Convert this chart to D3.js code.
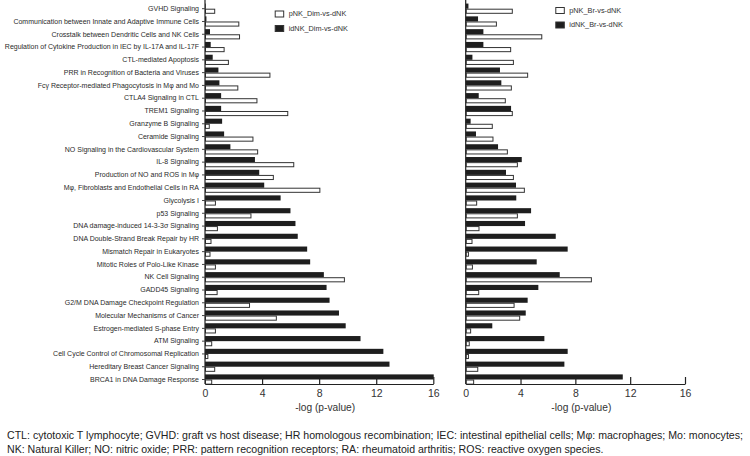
<!DOCTYPE html>
<html><head><meta charset="utf-8">
<script src="https://cdn.jsdelivr.net/npm/d3@7"></script>
<style>
body{margin:0;background:#fff;}
svg{font-family:"Liberation Sans",Arial,sans-serif;}
</style></head>
<body><svg id="c" width="750" height="456"></svg>
<script>
const categories = [
"GVHD Signaling",
"Communication between Innate and Adaptive Immune Cells",
"Crosstalk between Dendritic Cells and NK Cells",
"Regulation of Cytokine Production in IEC by IL-17A and IL-17F",
"CTL-mediated Apoptosis",
"PRR in Recognition of Bacteria and Viruses",
"Fcγ Receptor-mediated Phagocytosis in Mφ and Mo",
"CTLA4 Signaling in CTL",
"TREM1 Signaling",
"Granzyme B Signaling",
"Ceramide Signaling",
"NO Signaling in the Cardiovascular System",
"IL-8 Signaling",
"Production of NO and ROS in Mφ",
"Mφ, Fibroblasts and Endothelial Cells in RA",
"Glycolysis I",
"p53 Signaling",
"DNA damage-induced 14-3-3σ Signaling",
"DNA Double-Strand Break Repair by HR",
"Mismatch Repair in Eukaryotes",
"Mitotic Roles of Polo-Like Kinase",
"NK Cell Signaling",
"GADD45 Signaling",
"G2/M DNA Damage Checkpoint Regulation",
"Molecular Mechanisms of Cancer",
"Estrogen-mediated S-phase Entry",
"ATM Signaling",
"Cell Cycle Control of Chromosomal Replication",
"Hereditary Breast Cancer Signaling",
"BRCA1 in DNA Damage Response"
];
// Left panel
const pNK_Dim = [0.68,2.37,2.42,1.34,1.64,4.55,2.3,3.64,5.8,0.3,3.36,3.69,6.22,4.79,8.05,0.73,3.22,0.87,0.42,0.35,0.73,9.77,0.85,3.12,5.0,0.73,0.47,0.2,0.68,0.47];
const idNK_Dim = [0.05,0.1,0.35,0.4,0.54,0.94,1.01,1.13,1.13,1.2,1.34,1.78,3.5,3.8,4.15,5.3,5.99,6.34,6.5,7.16,7.37,8.33,8.52,8.73,9.39,9.86,10.9,12.5,12.93,16.03];
// Right panel
const pNK_Br = [3.4,2.24,5.55,3.28,3.48,4.52,3.33,2.89,3.4,1.94,1.99,3.04,3.77,3.48,4.28,0.8,3.77,0.97,0.46,0.2,0.49,9.17,0.95,3.53,3.94,0.36,0.26,0.2,0.88,0.58];
const idNK_Br = [0.2,0.9,1.29,1.29,0.49,2.5,2.6,0.95,3.31,0.36,0.75,2.36,4.09,2.94,3.67,3.69,4.77,4.33,6.57,7.44,5.18,6.86,5.3,4.52,4.38,1.94,5.74,7.44,7.2,11.46];
const xTicks = [0,4,8,12,16];
const legendLeft = ["pNK_Dim-vs-dNK","idNK_Dim-vs-dNK"];
const legendRight = ["pNK_Br-vs-dNK","idNK_Br-vs-dNK"];
const axisTitle = "-log (p-value)";
const footnote = [
"CTL: cytotoxic T lymphocyte; GVHD: graft vs host disease; HR homologous recombination; IEC: intestinal epithelial cells; Mφ: macrophages; Mo: monocytes;",
"NK: Natural Killer; NO: nitric oxide; PRR: pattern recognition receptors; RA: rheumatoid arthritis; ROS: reactive oxygen species."
];

const svg = d3.select("#c");
const y = d3.scaleBand().domain(categories).range([2.3, 385.9]).paddingInner(0.2).paddingOuter(0.1);
const sub = d3.scaleBand().domain(["id","p"]).range([0, y.bandwidth()]);
const axisY = 384;

function panel(x0, x1, pVals, idVals, legend, legY, legX, showLabels){
  const x = d3.scaleLinear().domain([0,16]).range([x0, x1]);
  const g = svg.append("g");
  g.selectAll("rect.id").data(categories).join("rect")
    .attr("x", x(0)).attr("y", d=>y(d)+sub("id"))
    .attr("width", (d,i)=>x(idVals[i])-x(0)).attr("height", sub.bandwidth())
    .attr("fill","#1e1e1e");
  g.selectAll("rect.p").data(categories).join("rect")
    .attr("x", x(0)+0.5).attr("y", (d)=>y(d)+sub("p")+0.5)
    .attr("width", (d,i)=>Math.max(0,x(pVals[i])-x(0)-0.5)).attr("height", sub.bandwidth()-1)
    .attr("fill","#fff").attr("stroke","#333").attr("stroke-width",1);
  const ax = d3.axisBottom(x).tickValues(xTicks).tickSizeInner(-7).tickSizeOuter(0).tickPadding(7);
  const axg = g.append("g").attr("transform",`translate(0,${axisY})`).call(ax);
  axg.select(".domain").attr("stroke","#222").attr("stroke-width",1.2);
  axg.selectAll(".tick line").attr("stroke","#222").attr("stroke-width",1.2);
  axg.selectAll(".tick text").attr("font-size","10.5px").attr("fill","#333").attr("dy","0.55em");
  axg.selectAll(".tick").filter(d=>d===0).select("line").remove();
  const ay = d3.axisLeft(y).tickSize(showLabels?3:0).tickSizeOuter(0).tickPadding(3);
  const ayg = g.append("g").attr("transform",`translate(${x0},0)`).call(ay);
  ayg.select(".domain").attr("d",`M0,0V${axisY}`).attr("stroke","#222").attr("stroke-width",1.2);
  ayg.selectAll(".tick line").attr("stroke","#444");
  if(showLabels){
    ayg.selectAll(".tick text").attr("font-size","7.0px").attr("fill","#2a2a2a");
  } else {
    ayg.selectAll(".tick text").remove();
  }
  g.append("text").attr("x",(x0+x1)/2+6).attr("y",411).attr("text-anchor","middle")
    .attr("font-size","10.2px").attr("fill","#333").text(axisTitle);
  const lg = g.append("g");
  legend.forEach((t,i)=>{
    const yy = legY + i*14.5;
    lg.append("rect").attr("x",legX+0.5).attr("y",yy-3+0.5).attr("width",8.5).attr("height",6)
      .attr("fill", i===0?"#fff":"#1e1e1e").attr("stroke","#333").attr("stroke-width",1);
    lg.append("text").attr("x",legX+14).attr("y",yy).attr("dy","0.35em")
      .attr("font-size","7.3px").attr("fill","#333").text(t);
  });
}
panel(205, 433.3, pNK_Dim, idNK_Dim, legendLeft, 13.5, 274.7, true);
panel(465.7, 685, pNK_Br, idNK_Br, legendRight, 10, 555.3, false);

const fn = svg.append("g");
footnote.forEach((t,i)=>{
  fn.append("text").attr("x",7).attr("y",439+i*14).attr("font-size","10.6px").attr("fill","#222").text(t);
});
</script></body></html>
